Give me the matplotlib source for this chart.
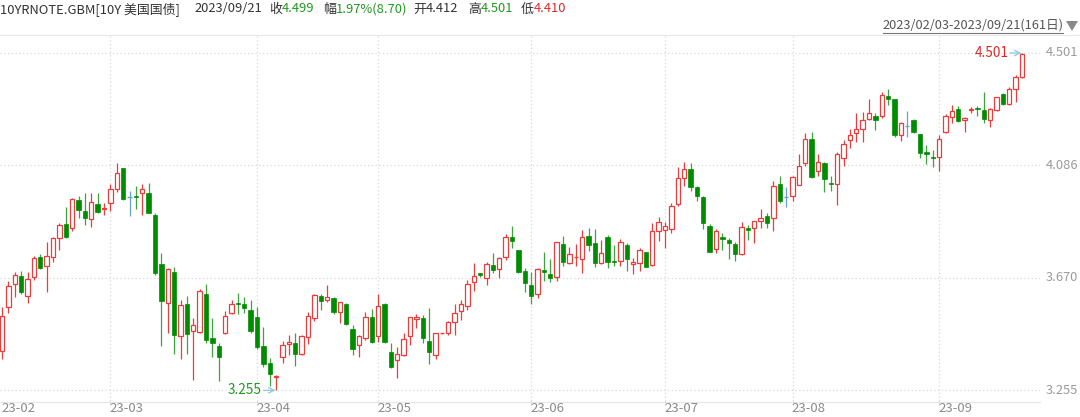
import matplotlib
matplotlib.use('Agg')
import matplotlib.pyplot as plt
from matplotlib.patches import Polygon
from matplotlib.lines import Line2D
import matplotlib.transforms as mtransforms

plt.rcParams['font.family'] = ['Noto Sans CJK SC', 'DejaVu Sans']

# ---------------- data (10Y US treasury yield, daily OHLC, 2023/02/03 - 2023/09/21) ----------------
opens = [3.399, 3.564, 3.646, 3.676, 3.603, 3.675, 3.747, 3.713, 3.749, 3.818,
         3.869, 3.853, 3.957, 3.919, 3.888, 3.943, 3.925, 3.946, 3.997, 4.075,
         3.968, 3.973, 3.983, 3.985, 3.904, 3.720, 3.579, 3.693, 3.457, 3.574,
         3.475, 3.469, 3.609, 3.449, 3.420, 3.468, 3.539, 3.578, 3.574, 3.552,
         3.525, 3.419, 3.355, 3.305, 3.379, 3.425, 3.431, 3.389, 3.453, 3.521,
         3.603, 3.589, 3.595, 3.543, 3.574, 3.480, 3.422, 3.447, 3.525, 3.456,
         3.573, 3.395, 3.367, 3.385, 3.457, 3.518, 3.523, 3.437, 3.385, 3.465,
         3.465, 3.508, 3.549, 3.568, 3.654, 3.687, 3.671, 3.718, 3.704, 3.746,
         3.823, 3.773, 3.697, 3.644, 3.610, 3.698, 3.685, 3.672, 3.795, 3.724,
         3.747, 3.741, 3.824, 3.798, 3.724, 3.823, 3.733, 3.733, 3.790, 3.723,
         3.726, 3.766, 3.717, 3.843, 3.846, 3.850, 3.942, 4.040, 4.071, 4.007,
         3.970, 3.862, 3.776, 3.820, 3.810, 3.794, 3.757, 3.853, 3.853, 3.880,
         3.899, 3.890, 4.016, 3.969, 3.973, 4.015, 4.093, 4.182, 4.065, 4.096,
         4.021, 4.016, 4.113, 4.180, 4.204, 4.220, 4.256, 4.270, 4.268, 4.342,
         4.330, 4.198, 4.231, 4.253, 4.200, 4.135, 4.118, 4.116, 4.208, 4.263,
         4.294, 4.253, 4.290, 4.299, 4.290, 4.253, 4.290, 4.349, 4.311, 4.367,
         4.412]
highs = [3.562, 3.659, 3.693, 3.696, 3.693, 3.751, 3.760, 3.802, 3.822, 3.874,
         3.933, 3.964, 3.973, 3.983, 3.983, 3.983, 3.948, 4.016, 4.093, 4.078,
         3.993, 4.010, 4.016, 4.022, 3.909, 3.763, 3.706, 3.712, 3.589, 3.603,
         3.521, 3.629, 3.648, 3.521, 3.428, 3.549, 3.589, 3.616, 3.601, 3.589,
         3.564, 3.490, 3.376, 3.312, 3.438, 3.459, 3.465, 3.460, 3.545, 3.610,
         3.611, 3.644, 3.598, 3.582, 3.577, 3.496, 3.459, 3.545, 3.554, 3.611,
         3.576, 3.428, 3.414, 3.468, 3.527, 3.536, 3.533, 3.558, 3.468, 3.467,
         3.512, 3.574, 3.589, 3.662, 3.726, 3.688, 3.730, 3.763, 3.749, 3.832,
         3.863, 3.775, 3.706, 3.693, 3.706, 3.766, 3.739, 3.804, 3.825, 3.783,
         3.795, 3.847, 3.853, 3.850, 3.810, 3.829, 3.792, 3.813, 3.800, 3.742,
         3.779, 3.767, 3.872, 3.894, 3.878, 3.948, 4.081, 4.097, 4.096, 4.010,
         3.973, 3.868, 3.850, 3.837, 3.819, 3.802, 3.878, 3.864, 3.882, 3.925,
         3.909, 4.029, 4.047, 4.007, 4.047, 4.128, 4.204, 4.209, 4.127, 4.098,
         4.048, 4.134, 4.180, 4.219, 4.278, 4.282, 4.331, 4.281, 4.357, 4.369,
         4.332, 4.247, 4.287, 4.257, 4.202, 4.160, 4.143, 4.198, 4.276, 4.309,
         4.305, 4.266, 4.303, 4.305, 4.356, 4.299, 4.340, 4.352, 4.377, 4.420,
         4.501]
lows = [3.370, 3.539, 3.598, 3.611, 3.579, 3.662, 3.704, 3.619, 3.730, 3.773,
        3.816, 3.845, 3.893, 3.867, 3.859, 3.911, 3.903, 3.917, 3.989, 3.958,
        3.900, 3.923, 3.903, 3.909, 3.681, 3.419, 3.468, 3.389, 3.371, 3.389,
        3.293, 3.468, 3.431, 3.379, 3.289, 3.463, 3.537, 3.537, 3.539, 3.468,
        3.406, 3.340, 3.271, 3.255, 3.355, 3.385, 3.346, 3.385, 3.426, 3.512,
        3.552, 3.580, 3.537, 3.505, 3.496, 3.385, 3.379, 3.441, 3.431, 3.433,
        3.431, 3.339, 3.299, 3.382, 3.422, 3.484, 3.431, 3.351, 3.372, 3.463,
        3.459, 3.459, 3.515, 3.552, 3.623, 3.672, 3.645, 3.690, 3.669, 3.736,
        3.782, 3.687, 3.619, 3.574, 3.597, 3.660, 3.656, 3.660, 3.714, 3.720,
        3.714, 3.687, 3.771, 3.712, 3.721, 3.706, 3.714, 3.714, 3.697, 3.685,
        3.697, 3.709, 3.714, 3.808, 3.782, 3.835, 3.937, 4.010, 3.991, 3.955,
        3.850, 3.765, 3.763, 3.773, 3.739, 3.734, 3.755, 3.810, 3.798, 3.856,
        3.853, 3.845, 3.946, 3.933, 3.954, 4.013, 4.085, 4.039, 4.047, 3.989,
        3.992, 3.940, 4.085, 4.149, 4.171, 4.173, 4.254, 4.217, 4.260, 4.309,
        4.189, 4.177, 4.192, 4.204, 4.112, 4.091, 4.081, 4.065, 4.207, 4.244,
        4.247, 4.210, 4.278, 4.268, 4.241, 4.226, 4.288, 4.309, 4.309, 4.319,
        4.410]
closes = [3.531, 3.640, 3.680, 3.618, 3.665, 3.742, 3.708, 3.750, 3.816, 3.866,
          3.821, 3.960, 3.922, 3.890, 3.952, 3.915, 3.930, 4.000, 4.059, 3.963,
          3.968, 3.969, 3.997, 3.911, 3.689, 3.586, 3.702, 3.459, 3.570, 3.463,
          3.496, 3.622, 3.441, 3.428, 3.379, 3.530, 3.574, 3.575, 3.558, 3.474,
          3.416, 3.352, 3.315, 3.308, 3.421, 3.432, 3.388, 3.456, 3.529, 3.607,
          3.585, 3.601, 3.543, 3.580, 3.500, 3.408, 3.456, 3.527, 3.433, 3.566,
          3.433, 3.340, 3.388, 3.443, 3.525, 3.525, 3.447, 3.395, 3.465, 3.466,
          3.507, 3.539, 3.573, 3.646, 3.679, 3.682, 3.720, 3.699, 3.744, 3.823,
          3.807, 3.693, 3.650, 3.605, 3.703, 3.691, 3.670, 3.802, 3.728, 3.757,
          3.749, 3.823, 3.793, 3.726, 3.763, 3.729, 3.728, 3.802, 3.740, 3.730,
          3.773, 3.712, 3.845, 3.875, 3.861, 3.936, 4.038, 4.071, 4.007, 3.974,
          3.872, 3.767, 3.843, 3.814, 3.798, 3.760, 3.857, 3.846, 3.880, 3.893,
          3.874, 4.011, 3.956, 3.969, 4.042, 4.085, 4.182, 4.042, 4.097, 4.034,
          4.018, 4.128, 4.165, 4.197, 4.219, 4.253, 4.278, 4.253, 4.345, 4.330,
          4.198, 4.241, 4.231, 4.208, 4.130, 4.127, 4.114, 4.182, 4.268, 4.288,
          4.250, 4.260, 4.293, 4.294, 4.258, 4.293, 4.337, 4.311, 4.368, 4.412,
          4.499]
month_labels = ['23-02', '23-03', '23-04', '23-05', '23-06', '23-07', '23-08', '23-09']
month_starts = [0, 17, 40, 59, 83, 104, 124, 147]
ytick_values = [4.501, 4.086, 3.670, 3.255]

# ---------------- figure ----------------
W, H = 1080, 417
fig = plt.figure(figsize=(W / 100, H / 100), dpi=100)
fig.patch.set_facecolor('white')

def fx(px):
    return px / W

def fy(py):
    return 1 - py / H

PLOT_L, PLOT_R, PLOT_T, PLOT_B = 0, 1040, 35, 401
ax = fig.add_axes([fx(PLOT_L), fy(PLOT_B), fx(PLOT_R - PLOT_L), (PLOT_B - PLOT_T) / H])
ax.set_facecolor('white')
for s in ax.spines.values():
    s.set_visible(False)
ax.set_xticks([])
ax.set_yticks([])

step = 6.375
x0 = 2.0
ax.set_xlim(-x0 / step, (PLOT_R - x0) / step)
ppu = 270.7
ax.set_ylim(4.501 - (PLOT_B - 53) / ppu, 4.501 + (53 - PLOT_T) / ppu)

RED = '#f03a3a'
GREEN = '#008c00'
GREEN_W = '#3aa53a'
BLUE = '#6b9fd0'
GRID = '#d9d9d9'

# grid lines
for v in ytick_values:
    ax.axhline(v, color=GRID, lw=0.9, ls=(0, (1, 2)), zorder=0)
for m in month_starts[1:]:
    ax.axvline(m, color=GRID, lw=0.9, ls=(0, (1, 2)), zorder=0)

n = len(opens)
bw = 0.68
for i in range(n):
    o, h, l, c = opens[i], highs[i], lows[i], closes[i]
    top, bot = max(o, c), min(o, c)
    if c > o:
        ax.vlines(i, top, h, color=RED, lw=0.9, zorder=2)
        ax.vlines(i, l, bot, color=RED, lw=0.9, zorder=2)
        ax.bar(i, max(top - bot, 0.0015), bottom=bot, width=bw, facecolor='white',
               edgecolor=RED, linewidth=0.9, zorder=3)
    elif c < o:
        ax.vlines(i, l, h, color=GREEN_W, lw=0.9, zorder=2)
        ax.bar(i, max(top - bot, 0.004), bottom=bot, width=bw, facecolor=GREEN,
               edgecolor=GREEN, linewidth=0.5, zorder=3)
    else:
        ax.vlines(i, l, h, color=BLUE, lw=0.9, zorder=2)
        ax.hlines(c, i - bw / 2, i + bw / 2, color=BLUE, lw=1.0, zorder=3)

# max / min annotations
imax = max(range(n), key=lambda k: highs[k])
imin = min(range(n), key=lambda k: lows[k])
ax.annotate('', xy=(imax - 0.1, highs[imax]), xytext=(imax - 1.9, highs[imax]),
            arrowprops=dict(arrowstyle='->', color='#8cc8e0', lw=0.9, shrinkA=0, shrinkB=0),
            zorder=4)
ax.text(imax - 2.1, highs[imax], '%.3f' % highs[imax], color='#e02828', fontsize=9.8,
        ha='right', va='center', zorder=4)
ax.annotate('', xy=(imin - 0.1, lows[imin]), xytext=(imin - 2.0, lows[imin]),
            arrowprops=dict(arrowstyle='->', color='#8cc8e0', lw=0.9, shrinkA=0, shrinkB=0),
            zorder=4)
ax.text(imin - 2.2, lows[imin], '%.3f' % lows[imin], color='#1f9a1f', fontsize=9.8,
        ha='right', va='center', zorder=4)

# right axis labels
tr_y = mtransforms.blended_transform_factory(fig.transFigure, ax.transData)
for v in ytick_values:
    fig.text(fx(1046), v, '%.3f' % v, transform=tr_y, color='#9a9a9a', fontsize=9.3,
             ha='left', va='center')

# bottom axis
fig.add_artist(Line2D([0, fx(PLOT_R)], [fy(PLOT_B + 0.5)] * 2, color='#e6e6e6', lw=0.8))
tr_x = mtransforms.blended_transform_factory(ax.transData, fig.transFigure)
for lab, m in zip(month_labels, month_starts):
    fig.text(m - 0.1, fy(409), lab, transform=tr_x, color='#8a8a8a', fontsize=9.5,
             ha='left', va='center')
    if m > 0:
        fig.add_artist(Line2D([m, m], [fy(PLOT_B), fy(PLOT_B + 4)], transform=tr_x,
                              color='#e0e0e0', lw=0.8))

# header
hdr_y = fy(9)
pieces = [
    (0, '10YRNOTE.GBM[10Y 美国国债]', '#333333'),
    (194, '2023/09/21', '#333333'),
    (269, '收', '#333333'),
    (282, '4.499', '#1f9a1f'),
    (323, '幅', '#333333'),
    (336, '1.97%(8.70)', '#1f9a1f'),
    (413, '开', '#333333'),
    (426, '4.412', '#333333'),
    (468, '高', '#333333'),
    (481, '4.501', '#1f9a1f'),
    (521, '低', '#333333'),
    (534, '4.410', '#e02828'),
]
for px, s, col in pieces:
    fig.text(fx(px), hdr_y, s, color=col, fontsize=9.3, ha='left', va='center')

# date range (underlined) and triangle
fig.text(fx(1063), fy(25.5), '2023/02/03-2023/09/21(161日)', color='#555555', fontsize=9.2,
         ha='right', va='center')
fig.add_artist(Line2D([fx(883), fx(1063)], [fy(32.5)] * 2, color='#777777', lw=0.8))
fig.add_artist(Polygon([[fx(1066), fy(21)], [fx(1078), fy(21)], [fx(1072), fy(31)]],
                       closed=True, facecolor='#8a8a8a', edgecolor='none',
                       transform=fig.transFigure))
fig.add_artist(Line2D([0, 1], [fy(35)] * 2, color='#e8e8e8', lw=0.8))

fig.savefig('out.png', dpi=100, facecolor='white')
